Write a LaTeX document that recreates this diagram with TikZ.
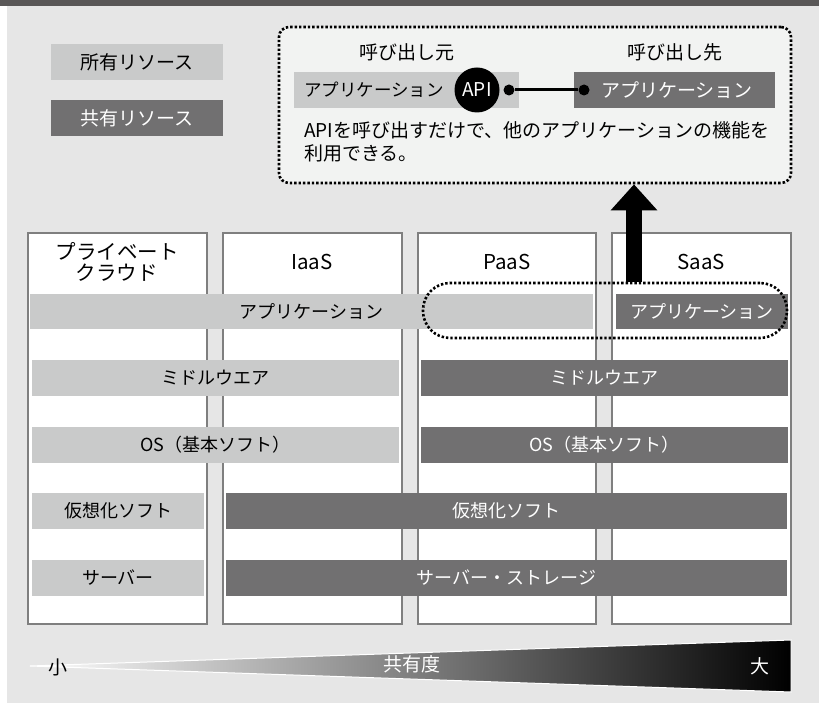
\documentclass[tikz,border=0pt]{standalone}
\usepackage{fontspec}
\setmainfont{Noto Sans CJK JP}
\usetikzlibrary{arrows.meta,positioning,calc}
\definecolor{bgc}{HTML}{E6E6E6}
\definecolor{topc}{HTML}{595757}
\definecolor{lightbar}{HTML}{C9CACA}
\definecolor{darkbar}{HTML}{717071}
\definecolor{colborder}{HTML}{7F7F7F}
\definecolor{callfill}{HTML}{F2F3F2}
\tikzset{
  colbox/.style={draw=colborder, line width=1.8pt, fill=white, inner sep=0pt},
  owned/.style={fill=lightbar, inner sep=0pt, minimum height=36pt, text=black, font=\fontsize{18}{20}\selectfont},
  shared/.style={fill=darkbar, inner sep=0pt, minimum height=36pt, text=white, font=\fontsize{18}{20}\selectfont},
  headtxt/.style={font=\fontsize{20.5}{24}\selectfont, align=center, inner sep=0pt},
  bodytxt/.style={font=\fontsize{19}{23.5}\selectfont, inner sep=0pt},
  dotline/.style={line width=2.6pt, dash pattern=on 2.4pt off 2pt},
  apidot/.style={circle, fill=black, inner sep=0pt, minimum size=11pt},
}
\begin{document}
\begin{tikzpicture}[x=1pt,y=-1pt]
\useasboundingbox (0,0) rectangle (819,703);
% background
\fill[white] (0,0) rectangle (819,703);
\fill[bgc] (7,6) rectangle (819,703);
\fill[topc] (0,0) rectangle (819,6);

% legend
\node[owned, minimum width=172pt, font=\fontsize{19}{20}\selectfont] (own) at (137,62) {所有リソース};
\node[shared, minimum width=172pt, font=\fontsize{19}{20}\selectfont] (shr) at (137,118) {共有リソース};

% callout
\node[draw=black, dotline, fill=callfill, rounded corners=10pt, minimum width=512pt, minimum height=156pt, inner sep=0pt] (callout) at (535,105) {};
\node[bodytxt] (src) at (407,52) {呼び出し元};
\node[bodytxt] (dst) at (675,52) {呼び出し先};
\node[owned, minimum width=225pt, minimum height=36pt] (srcapp) at (406.5,90) {};
\node[bodytxt, anchor=west, font=\fontsize{17.5}{20}\selectfont] (srcapptxt) at (304,90) {アプリケーション};
\node[shared, minimum width=201pt, minimum height=36pt] (dstapp) at (674.5,90) {};
\node[bodytxt, text=white] (dstapptxt) at (677,90) {アプリケーション};
\node[circle, fill=black, text=white, minimum size=45pt, inner sep=0pt, font=\fontsize{19}{20}\selectfont] (api) at (477,90) {API};
\node[apidot] (d1) at (509,90) {};
\node[apidot] (d2) at (584,90) {};
\draw[line width=3pt] (d1) -- (d2);
\node[bodytxt, anchor=north west, align=left] (desc) at (304,121) {APIを呼び出すだけで、他のアプリケーションの機能を\\利用できる。};

% columns
\node[colbox, minimum width=179pt, minimum height=391pt] (c1) at (117.5,428.5) {};
\node[colbox, minimum width=179pt, minimum height=391pt] (c2) at (312.5,428.5) {};
\node[colbox, minimum width=178pt, minimum height=391pt] (c3) at (507,428.5) {};
\node[colbox, minimum width=179pt, minimum height=391pt] (c4) at (701.5,428.5) {};
\node[headtxt] (h1) at (117,262) {プライベート\\[-3pt]クラウド};
\node[headtxt] (h2) at (312,262) {IaaS};
\node[headtxt] (h3) at (507,262) {PaaS};
\node[headtxt] (h4) at (701,262) {SaaS};

% rows
\node[owned, minimum width=563pt, minimum height=35pt] (app1) at (311.5,311.5) {アプリケーション};
\node[shared, minimum width=172pt, minimum height=35pt] (app2) at (702,311.5) {アプリケーション};
\node[owned, minimum width=367pt] (mw1) at (215.5,378) {ミドルウエア};
\node[shared, minimum width=367pt] (mw2) at (604.5,378) {ミドルウエア};
\node[owned, minimum width=367pt] (os1) at (215.5,445) {OS（基本ソフト）};
\node[shared, minimum width=367pt] (os2) at (604.5,445) {OS（基本ソフト）};
\node[owned, minimum width=172pt] (vm1) at (118,511) {仮想化ソフト};
\node[shared, minimum width=561pt] (vm2) at (506.5,511) {仮想化ソフト};
\node[owned, minimum width=172pt] (sv1) at (118,578) {サーバー};
\node[shared, minimum width=561pt] (sv2) at (506.5,578) {サーバー・ストレージ};

% arrow + dotted group
\coordinate (ax) at (634,0);
\node[draw=black, dotline, rounded corners=27pt, minimum width=364pt, minimum height=55pt, inner sep=0pt] (appgrp) at (605,310.5) {};
\draw[line width=16pt, -{Triangle[width=45pt,length=26pt]}] (appgrp.north -| ax) -- (callout.south -| ax);

% scale wedge
\shade[left color=white, right color=black, draw=white, line width=1pt] (30,666) -- (791,640) -- (791,692) -- cycle;
\node[font=\fontsize{19}{20}\selectfont, inner sep=1pt] (small) at (58,667) {小};
\node[font=\fontsize{19}{20}\selectfont, text=white] (deg) at (412,664) {共有度};
\node[font=\fontsize{19}{20}\selectfont, text=white] (big) at (760,666) {大};
\end{tikzpicture}
\end{document}
